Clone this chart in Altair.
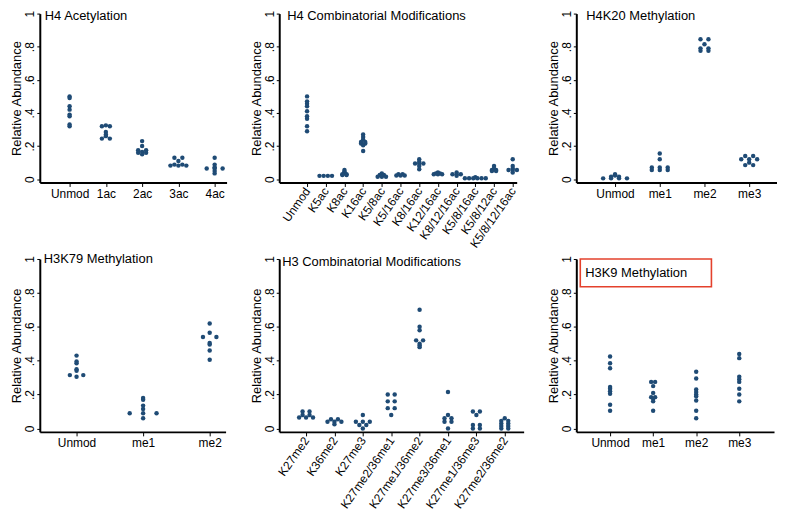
import altair as alt
import pandas as pd

# ---------------- data ----------------
h4ac_cats = ["Unmod", "1ac", "2ac", "3ac", "4ac"]
h4ac_unmod = [0.50, 0.49, 0.44, 0.42, 0.39, 0.38, 0.33, 0.32]
h4ac_1ac = [0.325, 0.32, 0.32, 0.285, 0.27, 0.26, 0.245, 0.245]
h4ac_2ac = [0.23, 0.20, 0.175, 0.175, 0.165, 0.16, 0.16, 0.15]
h4ac_3ac = [0.13, 0.13, 0.11, 0.088, 0.088, 0.082, 0.082, 0.082]
h4ac_4ac = [0.13, 0.088, 0.072, 0.065, 0.065, 0.065, 0.05, 0.035]

h4comb_cats = ["Unmod", "K5ac", "K8ac", "K16ac", "K5/8ac", "K5/16ac", "K8/16ac",
               "K12/16ac", "K8/12/16ac", "K5/8/16ac", "K5/8/12ac", "K5/8/12/16ac"]
h4comb_unmod = [0.50, 0.47, 0.455, 0.44, 0.41, 0.38, 0.365, 0.32, 0.29]
h4comb_k5 = [0.02, 0.02, 0.02, 0.02]
h4comb_k8 = [0.055, 0.045, 0.04, 0.035, 0.03, 0.03, 0.025, 0.025]
h4comb_k16 = [0.27, 0.255, 0.24, 0.225, 0.225, 0.215, 0.215, 0.205, 0.17]
h4comb_k5_8 = [0.035, 0.025, 0.025, 0.015, 0.015, 0.015]
h4comb_k5_16 = [0.03, 0.03, 0.022, 0.022, 0.022]
h4comb_k8_16 = [0.12, 0.105, 0.095, 0.095, 0.095, 0.08, 0.06]
h4comb_k12_16 = [0.04, 0.035, 0.035, 0.03, 0.03, 0.03]
h4comb_k8_12_16 = [0.04, 0.03, 0.03, 0.03, 0.02]
h4comb_k5_8_16 = [0.012, 0.006, 0.006, 0.006, 0.006, 0.006, 0.006]
h4comb_k5_8_12 = [0.08, 0.065, 0.055, 0.055, 0.05, 0.05]
h4comb_k5_8_12_16 = [0.12, 0.08, 0.065, 0.055, 0.055, 0.055, 0.04]

h4k20_cats = ["Unmod", "me1", "me2", "me3"]
h4k20_unmod = [0.03, 0.022, 0.015, 0.015, 0.005, 0.005, 0.005, 0.005]
h4k20_me1 = [0.155, 0.12, 0.07, 0.07, 0.07, 0.055, 0.055, 0.055]
h4k20_me2 = [0.845, 0.845, 0.815, 0.79, 0.79, 0.775, 0.775]
h4k20_me3 = [0.14, 0.14, 0.12, 0.12, 0.12, 0.10, 0.085, 0.085]

h3k79_cats = ["Unmod", "me1", "me2"]
h3k79_unmod = [0.43, 0.395, 0.385, 0.35, 0.34, 0.315, 0.315, 0.305]
h3k79_me1 = [0.18, 0.17, 0.135, 0.115, 0.09, 0.09, 0.09, 0.06]
h3k79_me2 = [0.62, 0.565, 0.54, 0.54, 0.505, 0.495, 0.46, 0.405]

h3comb_cats = ["K27me2", "K36me2", "K27me3", "K27me2/36me1", "K27me1/36me2",
               "K27me3/36me1", "K27me1/36me3", "K27me2/36me2"]
h3comb_k27me2 = [0.10, 0.10, 0.08, 0.08, 0.065, 0.065, 0.065]
h3comb_k36me2 = [0.055, 0.055, 0.04, 0.04, 0.04, 0.025]
h3comb_k27me3 = [0.08, 0.04, 0.04, 0.04, 0.02, 0.02, 0.0]
h3comb_k27me2_36me1 = [0.2, 0.2, 0.16, 0.16, 0.12, 0.12, 0.08]
h3comb_k27me1_36me2 = [0.70, 0.60, 0.58, 0.52, 0.52, 0.50, 0.49, 0.48]
h3comb_k27me3_36me1 = [0.215, 0.08, 0.06, 0.06, 0.04, 0.04, 0.0]
h3comb_k27me1_36me3 = [0.10, 0.10, 0.08, 0.02, 0.02, 0.0, 0.0]
h3comb_k27me2_36me2 = [0.06, 0.045, 0.045, 0.03, 0.03, 0.015, 0.015, 0.0, 0.0]

h3k9_cats = ["Unmod", "me1", "me2", "me3"]
h3k9_unmod = [0.425, 0.385, 0.355, 0.245, 0.235, 0.22, 0.205, 0.14, 0.105]
h3k9_me1 = [0.275, 0.275, 0.25, 0.21, 0.185, 0.185, 0.175, 0.16, 0.105]
h3k9_me2 = [0.335, 0.295, 0.23, 0.215, 0.2, 0.19, 0.165, 0.105, 0.06]
h3k9_me3 = [0.44, 0.415, 0.305, 0.29, 0.275, 0.235, 0.2, 0.16]

y_ticks = [0, 0.2, 0.4, 0.6, 0.8, 1]

# ---------------- styling / layout ----------------
FONT = "Liberation Sans"
DOT = "#1f4b75"
BOX = "#e4412c"
H1, H2 = 170, 174
COL_GAP, ROW_GAP = 53, 77


def panel(title, cats, groups, a, b, c0, cN, unit_px, height,
          tdx, tdy, rotate=False, box=None):
    n = len(cats)
    d = (cN - c0) / (n - 1)
    lo = -(c0 - a) / d
    hi = (n - 1) + (b - cN) / d
    unit = unit_px / d
    rows = []
    # dot-plot: tied values are spread side by side, centred on the category
    for i, vals in enumerate(groups):
        ties = {}
        for v in vals:
            ties.setdefault(round(v, 3), []).append(v)
        for key, g in ties.items():
            m = len(g)
            for k, v in enumerate(g):
                rows.append({"pos": i + (k - (m - 1) / 2) * unit, "v": v, "cat": cats[i]})
    df = pd.DataFrame(rows)
    arr = "[" + ",".join("'%s'" % c for c in cats) + "][round(datum.value)]"
    xaxis = alt.Axis(values=list(range(n)), labelExpr=arr, title=None, grid=False,
                     tickSize=4, labelPadding=2, labelFontSize=12, labelFont=FONT,
                     labelColor="black", domainColor="black", domainWidth=2,
                     tickColor="black", labelOverlap=False, labelFlush=False,
                     labelAngle=305 if rotate else 0,
                     labelAlign="right" if rotate else "center",
                     labelBaseline="middle" if rotate else "top")
    yaxis = alt.Axis(values=y_ticks, grid=False, title="Relative Abundance",
                     labelExpr="datum.value == 0 ? '0' : datum.value == 1 ? '1' : slice(format(datum.value, '.1f'), 1)",
                     labelAngle=270, labelAlign="center", labelBaseline="bottom",
                     labelPadding=0, tickSize=3, titlePadding=0, titleFontSize=13,
                     titleFontWeight="normal", titleFont=FONT, titleColor="black",
                     labelFontSize=12, labelFont=FONT, labelColor="black",
                     domainColor="black", domainWidth=2, tickColor="black",
                     labelOverlap=False, labelFlush=False)
    pts = alt.Chart(df).mark_circle(size=20, opacity=1, color=DOT).encode(
        x=alt.X("pos:Q", scale=alt.Scale(domain=[lo, hi], nice=False, zero=False), axis=xaxis),
        y=alt.Y("v:Q", scale=alt.Scale(domain=[-0.02, 1.0], nice=False, zero=False), axis=yaxis),
    )
    txt = alt.Chart(pd.DataFrame({"t": [title]})).mark_text(
        align="left", baseline="middle", fontSize=13, font=FONT, color="black"
    ).encode(x=alt.value(tdx), y=alt.value(tdy), text="t:N")
    layers = [pts, txt]
    if box is not None:
        layers.append(alt.Chart(pd.DataFrame({"t": [title]})).mark_rect(
            fill="white", fillOpacity=0, stroke=BOX, strokeWidth=1.6
        ).encode(x=alt.value(box[0]), x2=alt.value(box[1]),
                 y=alt.value(box[2]), y2=alt.value(box[3])))
    return alt.layer(*layers).properties(width=b - a, height=height)


p1 = panel("H4 Acetylation", h4ac_cats,
           [h4ac_unmod, h4ac_1ac, h4ac_2ac, h4ac_3ac, h4ac_4ac],
           40, 228, 70, 216, 8, H1, 5, 2.5)
p2 = panel("H4 Combinatorial Modifications", h4comb_cats,
           [h4comb_unmod, h4comb_k5, h4comb_k8, h4comb_k16, h4comb_k5_8, h4comb_k5_16,
            h4comb_k8_16, h4comb_k12_16, h4comb_k8_12_16, h4comb_k5_8_16,
            h4comb_k5_8_12, h4comb_k5_8_12_16],
           281, 520, 309, 516, 4.2, H1, 8, 2.5, rotate=True)
p3 = panel("H4K20 Methylation", h4k20_cats,
           [h4k20_unmod, h4k20_me1, h4k20_me2, h4k20_me3],
           573, 780, 612, 747, 8, H1, 10, 2.5)
p4 = panel("H3K79 Methylation", h3k79_cats,
           [h3k79_unmod, h3k79_me1, h3k79_me2],
           40, 227, 77, 211, 13.5, H2, 4, 0)
p5 = panel("H3 Combinatorial Modifications", h3comb_cats,
           [h3comb_k27me2, h3comb_k36me2, h3comb_k27me3, h3comb_k27me2_36me1,
            h3comb_k27me1_36me2, h3comb_k27me3_36me1, h3comb_k27me1_36me3,
            h3comb_k27me2_36me2],
           280, 526, 307, 507, 7, H2, 3, 3, rotate=True)
p6 = panel("H3K9 Methylation", h3k9_cats,
           [h3k9_unmod, h3k9_me1, h3k9_me2, h3k9_me3],
           579, 778, 613, 743, 4, H2, 9, 14, box=(4, 136, 0, 28))

# autosize "none": the view itself has zero size, so the padding alone sets
# where the grid starts (left/top) and how large the drawing is (774 x 502)
chart = alt.concat(p1, p2, p3, p4, p5, p6, columns=3,
                   spacing={"row": ROW_GAP, "column": COL_GAP},
                   bounds="flush", align="none").properties(
    autosize=alt.AutoSizeParams(type="none"),
    padding={"left": 32, "top": 4, "right": 742, "bottom": 498},
    background="white"
).configure_view(strokeWidth=0)

chart.save("out.html", embed_options={"renderer": "svg", "actions": False})
